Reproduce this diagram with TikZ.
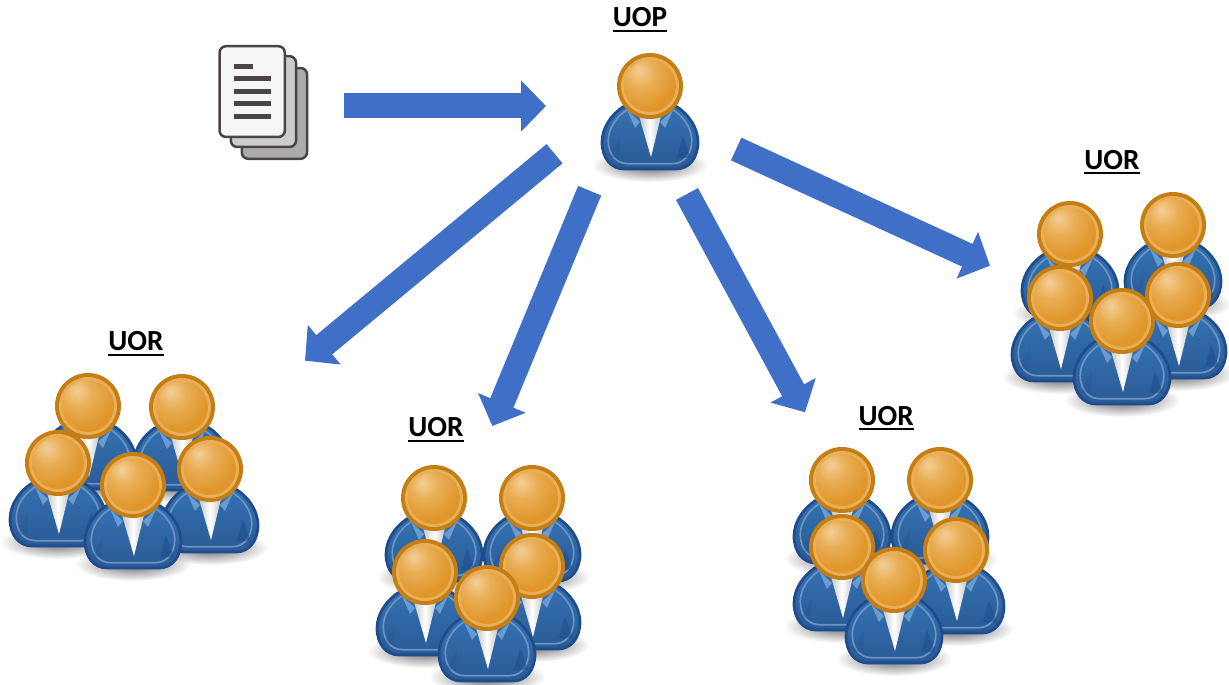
\documentclass[tikz,border=0pt]{standalone}
\usepackage{fontspec}
\usepackage{tikz}
\usetikzlibrary{shapes, arrows.meta, positioning, fadings}
\setmainfont{Carlito}
\newsavebox{\ulbox}
\newcommand{\ultext}[1]{\sbox{\ulbox}{#1}\rlap{\raisebox{-2.85pt}{\rule{\wd\ulbox}{1.1pt}}}\usebox{\ulbox}}
\definecolor{arrowblue}{HTML}{3F6FC6}
\definecolor{suitedge}{HTML}{1E4C8C}
\definecolor{suitrim}{HTML}{6C94C0}
\definecolor{suittop}{HTML}{3472B2}
\definecolor{suitlow}{HTML}{2A5A96}
\definecolor{collar}{HTML}{6A9BCC}
\definecolor{headedge}{HTML}{C47E14}
\definecolor{headrim}{HTML}{E9AE58}
\definecolor{headlight}{HTML}{F3CF97}
\definecolor{headmid}{HTML}{E9AE55}
\definecolor{headbase}{HTML}{E0962A}
\definecolor{pageedge}{HTML}{4A4543}
\pgfdeclareradialshading{headball}{\pgfpoint{-11bp}{15bp}}{%
  color(0bp)=(headlight); color(14bp)=(headmid); color(32bp)=(headbase); color(100bp)=(headbase)}
\tikzfading[name=softedge, inner color=transparent!0, outer color=transparent!100]
\tikzstyle{uolabel}=[font=\fontsize{16.6}{20}\selectfont\bfseries,inner sep=0pt,anchor=base]
\tikzstyle{bigarrow}=[draw=arrowblue,line width=.5cm,-{Triangle[length=.5cm,width=1cm,fill=arrowblue]}]
\tikzstyle{page}=[draw=pageedge,rectangle,rounded corners=.13cm,line width=.05cm,minimum width=1.306cm,minimum height=1.816cm,inner sep=0pt]
\tikzstyle{textline}=[draw=pageedge,line width=.1cm]
\newcommand{\suitpath}{(-22,-34) .. controls (-38,-26) and (-48,-10) .. (-48,4) .. controls (-48,20) and (-39,31) .. (-26,31) -- (26,31) .. controls (39,31) and (48,20) .. (48,4) .. controls (48,-10) and (38,-26) .. (22,-34) -- cycle}
\tikzset{person/.pic={
    \fill[black,opacity=.6,path fading=softedge] (0,79) ellipse [x radius=58,y radius=17];
    \shade[top color=suittop,bottom color=suitlow,draw=suitedge,line width=.055cm,shift={(0,52)}] \suitpath;
    \draw[suitrim,line width=.034cm,shift={(0,51)},xscale=.87,yscale=.86] \suitpath;
    \fill[suitedge,opacity=.55] (33,50) -- (41,72) -- (27,72) -- cycle;
    \fill[suitedge,opacity=.2] (-30,50) -- (-41,72) -- (-31,72) -- cycle;
    \fill[collar] (-23,24) -- (-10,36) -- (-15,42) -- cycle;
    \fill[collar] (23,24) -- (10,36) -- (15,42) -- cycle;
    \shade[left color=gray!45,right color=gray!45,middle color=white] (-11,30) -- (11,30) -- (1,71) -- cycle;
    \fill[headedge] (0,0) circle [radius=33];
    \fill[headrim] (0,0) circle [radius=29];
    \shade[shading=headball] (0,0) circle [radius=26];
}}
\begin{document}
\begin{tikzpicture}[x=.02cm,y=-.02cm]
    \useasboundingbox (0,0) rectangle (1229,685);
    \node[page,fill=gray!65] (page3) at (274.4,113.4) {};
    \node[page,fill=gray!40] (page2) at (263.4,101.6) {};
    \node[page,fill=gray!7] (page1) at (252.2,91.6) {};
    \draw[textline] (234.3,66.7) -- (252.7,66.7);
    \draw[textline] (234.3,79) -- (270.7,79);
    \draw[textline] (234.3,91.7) -- (270.7,91.7);
    \draw[textline] (234.3,104) -- (270.7,104);
    \draw[textline] (234.3,116.7) -- (270.7,116.7);

    \pic (boss) at (650,86) {person};
    \node[uolabel] (uop) at (640,27) {\ultext{UOP}};

    \pic (a1) at (88,406) {person};
    \pic (a2) at (182,407) {person};
    \pic (a3) at (210,469) {person};
    \pic (a4) at (58,463) {person};
    \pic (a5) at (133,485) {person};
    \node[uolabel] (uora) at (136,350.7) {\ultext{UOR}};

    \pic (b1) at (434,498) {person};
    \pic (b2) at (532,498) {person};
    \pic (b3) at (532,566) {person};
    \pic (b4) at (425,572) {person};
    \pic (b5) at (487,598) {person};
    \node[uolabel] (uorb) at (436,436.7) {\ultext{UOR}};

    \pic (c1) at (842,480) {person};
    \pic (c2) at (940,480) {person};
    \pic (c3) at (956,550) {person};
    \pic (c4) at (842,547) {person};
    \pic (c5) at (894,580) {person};
    \node[uolabel] (uorc) at (886.2,425) {\ultext{UOR}};

    \pic (d1) at (1070,234) {person};
    \pic (d2) at (1173,225) {person};
    \pic (d3) at (1178,295) {person};
    \pic (d4) at (1060,298) {person};
    \pic (d5) at (1122,321) {person};
    \node[uolabel] (uord) at (1112,169.3) {\ultext{UOR}};

    \coordinate (docout) at (344,106);
    \coordinate (bossin) at (546,106);
    \coordinate (outa) at (554.5,153.7);
    \coordinate (ina) at (305,360.7);
    \coordinate (outb) at (589.7,190.7);
    \coordinate (inb) at (492.3,426);
    \coordinate (outc) at (687,194);
    \coordinate (inc) at (805,412.3);
    \coordinate (outd) at (736.2,149);
    \coordinate (ind) at (990,265.7);
    \draw[bigarrow] (docout) -- (bossin);
    \draw[bigarrow] (outa) -- (ina);
    \draw[bigarrow] (outb) -- (inb);
    \draw[bigarrow] (outc) -- (inc);
    \draw[bigarrow] (outd) -- (ind);
\end{tikzpicture}
\end{document}
